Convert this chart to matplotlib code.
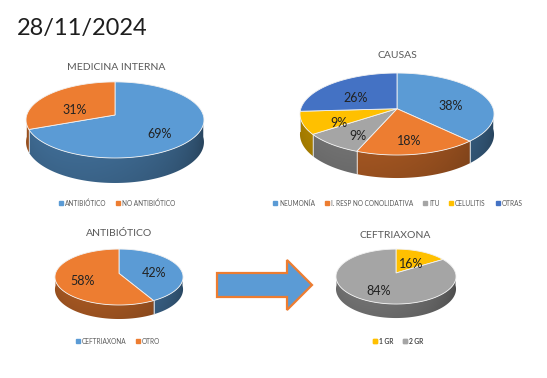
import numpy as np
import matplotlib
matplotlib.use('Agg')
from matplotlib import pyplot as plt
from matplotlib.patches import Polygon
from matplotlib.lines import Line2D

plt.rcParams['font.family'] = ['Lato', 'DejaVu Sans']

## data
fecha = '28/11/2024'

med_titulo = 'MEDICINA INTERNA'
med_labels = ['ANTIBIÓTICO', 'NO ANTIBIÓTICO']
med_values = [69, 31]

causas_titulo = 'CAUSAS'
causas_labels = ['NEUMONÍA', 'I. RESP NO CONOLIDATIVA', 'ITU', 'CELULITIS', 'OTRAS']
causas_values = [38, 18, 9, 9, 26]

abx_titulo = 'ANTIBIÓTICO'
abx_labels = ['CEFTRIAXONA', 'OTRO']
abx_values = [42, 58]

cef_titulo = 'CEFTRIAXONA'
cef_labels = ['1 GR', '2 GR']
cef_values = [16, 84]

BLUE = '#5B9BD5'
ORANGE = '#ED7D31'
GRAY = '#A5A5A5'
YELLOW = '#FFC000'
DKBLUE = '#4472C4'

med_colors = [BLUE, ORANGE]
causas_colors = [BLUE, ORANGE, GRAY, YELLOW, DKBLUE]
abx_colors = [BLUE, ORANGE]
cef_colors = [YELLOW, GRAY]

TXT = '#595959'
K = 0.13  # perspective


def proj(cx, cy, A, B, t, drop=0.0):
    u, v = np.cos(t), np.sin(t)
    s = 1.0 / (1.0 + K * v)
    return cx + A * u * s, cy - B * v * s + drop * s


def pie3d(ax, values, colors, cx, cy, A, B, depth, r_lab=0.58):
    values = np.asarray(values, dtype=float)
    fr = values / values.sum()
    # clockwise from 12 o'clock
    edges = np.pi / 2 - 2 * np.pi * np.concatenate([[0], np.cumsum(fr)])
    drop = depth * (1 - K)

    # bounding box of the side band
    Aw = A / np.sqrt(1 - K ** 2)
    x0, x1 = cx - Aw - 2, cx + Aw + 2
    y0 = cy - 2
    y1 = cy + B / (1 - K) + drop / (1 - K) + 2
    xn = np.linspace(-1, 1, 300)
    phi = np.arcsin(np.clip(xn, -1, 1))
    shade_x = 0.72 - 0.13 * ((phi + 0.4) / 1.2) ** 2
    shade_y = np.linspace(1.05, 0.88, 60)

    # side (front half only), one gradient per wedge
    for i, c in enumerate(colors):
        ts = np.mod(np.linspace(edges[i + 1], edges[i], 400), 2 * np.pi)
        ts = np.sort(ts[(ts >= np.pi) & (ts <= 2 * np.pi)])
        if len(ts) < 2:
            continue
        xt, yt = proj(cx, cy, A, B, ts)
        xb, yb = proj(cx, cy, A, B, ts, drop)
        pts = list(zip(xt, yt)) + list(zip(xb[::-1], yb[::-1]))
        clip = Polygon(pts, closed=True, facecolor='none', edgecolor='none')
        ax.add_patch(clip)
        rgb = np.array(matplotlib.colors.to_rgb(c))
        img = np.clip(shade_y[:, None, None] * shade_x[None, :, None] * rgb[None, None, :], 0, 1)
        im = ax.imshow(img, extent=(x0, x1, y1, y0), origin='upper',
                       aspect='auto', interpolation='bilinear', zorder=1)
        im.set_clip_path(clip)
    # light seams on the side at wedge borders
    for e in edges[:-1]:
        t = np.mod(e, 2 * np.pi)
        if np.pi < t < 2 * np.pi:
            xa, ya = proj(cx, cy, A, B, t)
            xb, yb = proj(cx, cy, A, B, t, drop)
            ax.plot([xa, xb], [ya, yb], color='#e8e8e8', lw=0.7, alpha=0.8, zorder=2)

    # top face
    for i, c in enumerate(colors):
        ts = np.linspace(edges[i], edges[i + 1], 150)
        xs, ys = proj(cx, cy, A, B, ts)
        pts = [(cx, cy)] + list(zip(xs, ys))
        ax.add_patch(Polygon(pts, closed=True, facecolor=c,
                             edgecolor='#f2f2f2', linewidth=0.6, zorder=3))

    # labels
    for i in range(len(values)):
        m = 0.5 * (edges[i] + edges[i + 1])
        u, v = r_lab * np.cos(m), r_lab * np.sin(m)
        s = 1.0 / (1.0 + K * v)
        lx = cx + A * u * s
        ly = cy - B * v * s + depth * 0.25
        ax.text(lx, ly, '{:.0f}%'.format(values[i]), ha='center', va='center',
                fontsize=9, color='#222222', zorder=4)


def leyenda(ax, labels, colors, x, y):
    handles = [Line2D([], [], linestyle='none', marker='s', markersize=2.2,
                      markerfacecolor=c, markeredgecolor=c) for c in colors]
    leg = ax.legend(handles, labels, loc='center', bbox_to_anchor=(x, y),
                    bbox_transform=ax.transData, ncol=len(labels),
                    frameon=False, fontsize=4.7, handlelength=0.6,
                    handletextpad=0.3, columnspacing=1.5, borderpad=0,
                    labelcolor=TXT)
    ax.add_artist(leg)


fig = plt.figure(figsize=(5.47, 3.78), dpi=100)
ax = fig.add_axes([0, 0, 1, 1])

ax.text(17, 29, fecha, fontsize=17, color='#1e1e1e', ha='left', va='center')

## medicina interna
ax.text(116, 68, med_titulo, fontsize=7.5, color=TXT, ha='center', va='center')
pie3d(ax, med_values, med_colors, 115, 115, 88.2, 37.4, 25)
leyenda(ax, med_labels, med_colors, 117, 203)

## causas
ax.text(397, 56, causas_titulo, fontsize=7.5, color=TXT, ha='center', va='center')
pie3d(ax, causas_values, causas_colors, 397, 108.7, 96.2, 40.3, 23, r_lab=0.62)
leyenda(ax, causas_labels, causas_colors, 398, 203)

## antibiotico
ax.text(119, 233, abx_titulo, fontsize=7.5, color=TXT, ha='center', va='center')
pie3d(ax, abx_values, abx_colors, 119, 273.4, 63.5, 27.5, 14)
leyenda(ax, abx_labels, abx_colors, 118, 341)

## flecha
flecha = [(217, 273), (287, 273), (287, 260), (312, 285), (287, 310),
          (287, 297), (217, 297)]
ax.add_patch(Polygon(flecha, closed=True, facecolor=BLUE, edgecolor=ORANGE,
                     linewidth=1.6, joinstyle='miter'))

## ceftriaxona
ax.text(395, 236, cef_titulo, fontsize=7.5, color=TXT, ha='center', va='center')
pie3d(ax, cef_values, cef_colors, 396, 273, 59.5, 27, 14)
leyenda(ax, cef_labels, cef_colors, 398, 341)

ax.set_xlim(0, 547)
ax.set_ylim(378, 0)
ax.axis('off')

fig.savefig('out.png', dpi=100, facecolor='white')
